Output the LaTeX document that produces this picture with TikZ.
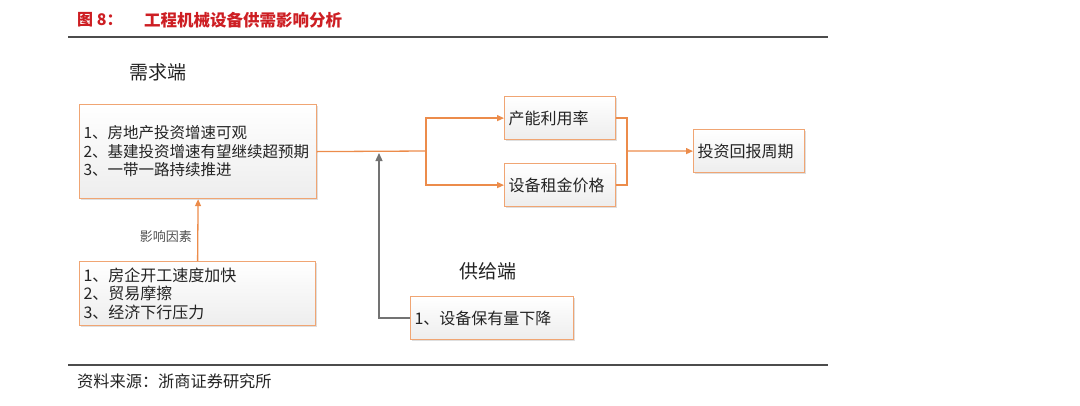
\documentclass[tikz,border=0pt]{standalone}
\usepackage{fontspec}
\setmainfont{Noto Sans CJK SC}
\usetikzlibrary{arrows.meta,shadows}

\definecolor{boxorange}{RGB}{240,165,115}
\definecolor{lineorange}{RGB}{236,140,75}
\definecolor{titlered}{RGB}{205,30,35}
\definecolor{arrowgray}{RGB}{115,115,115}
\definecolor{textgray}{RGB}{35,35,35}

\tikzset{
    infobox/.style={draw=boxorange, line width=1.2pt, top color=white, bottom color=gray!14,
        drop shadow={opacity=0.25, shadow xshift=1.5pt, shadow yshift=-1.5pt},
        align=left, anchor=north west, inner xsep=4pt, inner ysep=2pt, text=textgray,
        font=\fontsize{15.5}{18.5}\selectfont},
    flow/.style={lineorange, line width=1.3pt},
    flowarrow/.style={flow, -{Triangle[length=7pt,width=6pt]}},
    supplyarrow/.style={arrowgray, line width=1.3pt, -{Triangle[length=8pt,width=7pt]}},
    sidelabel/.style={text=textgray, font=\fontsize{19}{22}\selectfont}
}

\begin{document}
\begin{tikzpicture}[x=1pt, y=-1pt]
        \useasboundingbox (0,0) rectangle (1080,405);

        % title and rules
        \node[anchor=west, text=titlered, font=\fontsize{16}{18}\selectfont\bfseries, inner sep=0pt] (fignum) at (77,20) {图 8：};
        \node[anchor=west, text=titlered, font=\fontsize{16.5}{18}\selectfont\bfseries, inner sep=0pt] (figtitle) at (144,20) {工程机械设备供需影响分析};
        \draw[gray!60!black, line width=1.6pt] (68,37) -- (828,37);
        \draw[gray!60!black, line width=1.6pt] (68,365) -- (828,365);
        \node[anchor=west, text=textgray, font=\fontsize{16.2}{18}\selectfont, inner sep=0pt] (source) at (77,381) {资料来源：浙商证券研究所};

        % boxes
        \node[sidelabel] (demandlabel) at (158,72) {需求端};
        \node[infobox, text width=229pt, minimum height=94pt] (demand) at (79,104) {1、房地产投资增速可观\\2、基建投资增速有望继续超预期\\3、一带一路持续推进};
        \node[infobox, text width=228pt, minimum height=64pt, font=\fontsize{16}{18.5}\selectfont] (factor) at (79,261) {1、房企开工速度加快\\2、贸易摩擦\\3、经济下行压力};
        \node[infobox, text width=103pt, minimum height=43pt, font=\fontsize{16}{18}\selectfont] (util) at (504,96) {产能利用率};
        \node[infobox, text width=103pt, minimum height=43pt, font=\fontsize{16}{18}\selectfont] (rent) at (504,163) {设备租金价格};
        \node[infobox, text width=103pt, minimum height=43pt, font=\fontsize{16}{18}\selectfont] (payback) at (693,129) {投资回报周期};
        \node[sidelabel] (supplylabel) at (488,271) {供给端};
        \node[infobox, text width=155pt, minimum height=43pt, font=\fontsize{16}{18}\selectfont] (supply) at (410,296) {1、设备保有量下降};

        % connectors
        \coordinate (split) at (426,151);
        \coordinate (join) at (627,151);
        \coordinate (hit) at (379,153);

        \draw[flowarrow] (factor.north) -- node[pos=0.4, left=2pt, text=textgray!80, font=\fontsize{13}{15}\selectfont] (factorlabel) {影响因素} (demand.south);
        \draw[flow] (demand.east) -- (split);
        \draw[flowarrow] (split) |- (util.west);
        \draw[flowarrow] (split) |- (rent.west);
        \draw[flow] (util.east) -| (join);
        \draw[flow] (rent.east) -| (join);
        \draw[flowarrow] (join) -- (payback.west);
        \draw[supplyarrow] (supply.west) -| (hit);

    \end{tikzpicture}
\end{document}
